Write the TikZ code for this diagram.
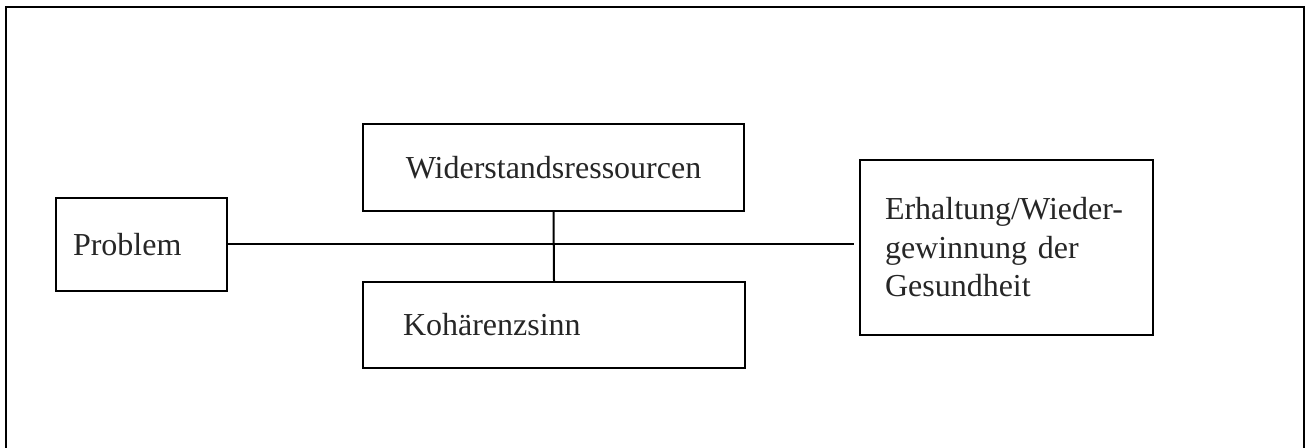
\documentclass[tikz,border=0pt]{standalone}
\usepackage{fontspec}
\setmainfont{Liberation Serif}
\usepackage{tikz}

\begin{document}
\begin{tikzpicture}[x=0.5pt,y=-0.5pt,
        box/.style={draw, line width=1pt, rectangle, inner ysep=0pt,
          font=\fontsize{16}{19.25}\selectfont, text=black!85},
        link/.style={line width=1pt}]
        \useasboundingbox (0,0) rectangle (1305,448);
        %% frame, bottom edge is cut off
        \draw[line width=1.25pt] (6,448) -- (6,7) -- (1304,7) -- (1304,448);
        \node[box, minimum width=85.5pt, minimum height=46.5pt, inner xsep=8.5pt,
          text width=68.5pt, align=left] (problem) at (141.5,244.5) {Problem};
        \node[box, minimum width=190.5pt, minimum height=43.5pt, align=center]
          (wider) at (553.5,167.5) {Widerstandsressourcen};
        \node[box, minimum width=191pt, minimum height=43pt, inner xsep=20pt,
          text width=151pt, align=left] (kohaer) at (554,325) {Kohärenzsinn};
        \node[box, minimum width=146.5pt, minimum height=87.5pt, inner xsep=12.5pt,
          text width=121.5pt, align=left] (erhalt) at (1006.5,247.5)
          {Erhaltung/Wieder-\\gewinnung der\\Gesundheit};
        \draw[link, shorten >=2.5pt] (problem.east) -- (problem.east -| erhalt.west);
        \draw[link] (wider.south) -- (kohaer.north);
      \end{tikzpicture}
\end{document}
